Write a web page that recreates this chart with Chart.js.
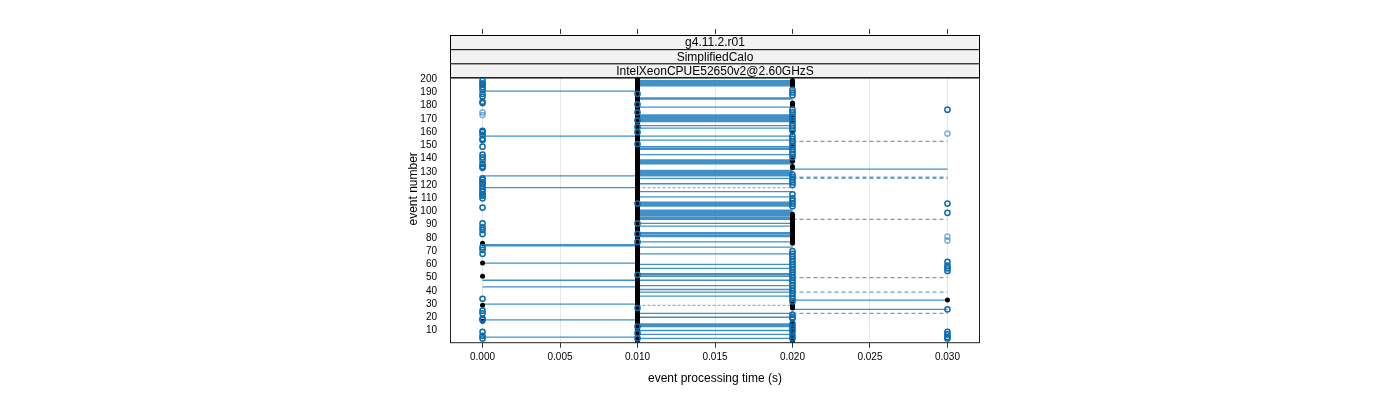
<!DOCTYPE html>
<html>
<head>
<meta charset="utf-8">
<script src="https://cdn.jsdelivr.net/npm/chart.js@4.4.0/dist/chart.umd.min.js"></script>
<style>
  html, body { margin: 0; padding: 0; background: #fff; }
</style>
</head>
<body>
<canvas id="chart" width="1400" height="400"></canvas>
<script>
// axis ticks
const timeTicks = [0, 0.005, 0.010, 0.015, 0.020, 0.025, 0.030];
const eventTicks = [10, 20, 30, 40, 50, 60, 70, 80, 90, 100, 110, 120, 130, 140, 150, 160, 170, 180, 190, 200];
const stripLabels = ['g4.11.2.r01', 'SimplifiedCalo', 'IntelXeonCPUE52650v2@2.60GHzS'];

// black dots: event numbers per processing time
const blackAt0 = [76, 61, 51, 29, 17];
const blackAt10 = [
    1, 2, 3, 4, 5, 6, 7, 8, 9, 10, 11, 12, 13, 14, 15, 16, 17, 18, 19, 20,
    21, 22, 23, 24, 25, 26, 27, 28, 29, 30, 31, 32, 33, 34, 35, 36, 37, 38, 39, 40,
    41, 42, 43, 44, 45, 46, 47, 48, 49, 50, 51, 52, 53, 54, 55, 56, 57, 58, 59, 60,
    61, 62, 63, 64, 65, 66, 67, 68, 69, 70, 71, 72, 73, 74, 75, 76, 77, 78, 79, 80,
    81, 82, 83, 84, 85, 86, 87, 88, 89, 90, 91, 92, 93, 94, 95, 96, 97, 98, 99, 100,
    101, 102, 103, 104, 105, 106, 107, 108, 109, 110, 111, 112, 113, 114, 115, 116, 117, 118, 119, 120,
    121, 122, 123, 124, 125, 126, 127, 128, 129, 130, 132, 133, 134, 135, 136, 137, 138, 139, 140,
    141, 142, 143, 144, 145, 146, 147, 148, 149, 150, 151, 152, 153, 154, 155, 156, 157, 158, 159, 160,
    161, 162, 163, 164, 165, 166, 167, 168, 169, 170, 171, 172, 173, 174, 175, 176, 177, 178, 179, 180,
    181, 182, 183, 184, 185, 186, 187, 188, 189, 190, 191, 192, 193, 194, 195, 196, 197, 198, 199, 200
];
const blackAt20 = [199, 198, 197, 196, 195, 182, 181, 180, 172, 168, 160, 150, 140, 139, 138, 134, 133,
    98, 97, 96, 95, 94, 93, 92, 91, 90, 89, 88, 87, 86, 85, 84, 83, 82, 81, 80, 79, 78, 77, 76,
    31, 30, 29, 28, 27, 16, 14, 12, 10, 7, 5, 3, 2];
const blackAt30 = [33];

// blue open circles
const blueAt0 = [199, 197, 196, 194, 192, 189, 187, 183, 182, 161, 160, 158, 155, 154, 149, 143, 141, 139,
    136, 134, 133, 125, 124, 122, 121, 119, 117, 115, 113, 112, 110, 103, 91, 88, 86, 83, 73, 71, 68,
    34, 25, 23, 19, 18, 9, 6, 4];
const blueAt10 = [189, 181, 175, 169, 164, 160, 151, 106, 91, 83, 77, 52, 27, 13, 8, 4];
const blueAt20 = [192, 190, 188, 177, 175, 173, 171, 169, 167, 165, 163, 161, 157, 155, 153, 151, 149, 147,
    145, 143, 141, 128, 126, 124, 122, 120, 113, 110, 108, 106, 104, 70, 68, 66, 64, 62, 60, 58, 56, 54,
    52, 50, 48, 46, 44, 42, 40, 38, 36, 34, 32, 22, 20, 19, 15, 13, 11, 9, 6, 4];
const blueAt30 = [177, 106, 99, 62, 59, 57, 55, 26, 9, 7, 5, 4];
const paleAt0 = [175, 173];
const paleAt30 = [159, 81, 78];

// horizontal segments (event numbers)
const lines0to10 = [191, 157, 127, 118, 75, 74, 61, 48, 43, 30, 18, 5];
const lines10to20 = [199, 198, 197, 196, 195, 186, 185, 179, 173, 172, 171, 170, 169, 168, 165, 163, 157, 154,
    149, 148, 147, 143, 139, 138, 137, 136, 131, 130, 129, 128, 127, 125, 121, 115, 111, 107, 106, 105, 104,
    101, 100, 99, 98, 97, 96, 95, 94, 91, 89, 84, 83, 82, 81, 77, 73, 68, 60, 57, 53, 52, 51, 48, 44, 41,
    39, 36, 23, 20, 15, 14, 13, 10, 7, 4];
const dashed10to20 = [118, 29];
const lines20to30 = [132, 33, 26];
const dashed20to30 = [153, 126, 125, 94, 50, 39, 23];

const FONT = '"Liberation Sans", Arial, sans-serif';
Chart.defaults.font.family = FONT;
Chart.defaults.color = '#000';

function points(events, t) {
    return events.map(e => ({ x: t, y: e }));
}

function segments(events, t0, t1) {
    const out = [];
    events.forEach(e => {
        out.push({ x: t0, y: e }, { x: t1, y: e }, { x: t1, y: null });
    });
    return out;
}

function circles(data, color) {
    return {
        data, showLine: false, pointStyle: 'circle', pointRadius: 2.6,
        pointBackgroundColor: 'rgba(0,0,0,0)', pointBorderColor: color, pointBorderWidth: 1.5
    };
}

function segLine(data, color, width, dash) {
    return {
        data, borderColor: color, borderWidth: width, borderDash: dash || [],
        pointRadius: 0, fill: false, tension: 0
    };
}

const BLUE = '#0a6cad';
const LINE = 'rgba(18,118,186,0.8)';

const datasets = [
    circles([...points(blueAt0, 0), ...points(blueAt10, 0.01), ...points(blueAt20, 0.02), ...points(blueAt30, 0.03)], BLUE),
    circles([...points(paleAt0, 0), ...points(paleAt30, 0.03)], 'rgba(40,130,195,0.6)'),
    {
        data: [...points(blackAt0, 0), ...points(blackAt10, 0.01), ...points(blackAt20, 0.02), ...points(blackAt30, 0.03)],
        showLine: false, pointStyle: 'circle', pointRadius: 2.5,
        pointBackgroundColor: '#000', pointBorderColor: '#000', pointBorderWidth: 0
    },
    segLine(segments(lines0to10, 0, 0.01), LINE, 1.3),
    segLine(segments(lines10to20, 0.01, 0.02), LINE, 1.3),
    segLine(segments(dashed10to20, 0.01, 0.02), 'rgba(120,175,215,0.9)', 1.2, [3, 2]),
    segLine(segments(lines20to30, 0.02, 0.03), LINE, 1.3),
    segLine(segments(dashed20to30, 0.02, 0.03), 'rgba(50,130,190,0.75)', 1.2, [4, 3])
];

const PANEL_TOP = 77.5;

const stripPlugin = {
    id: 'strips',
    beforeDatasetsDraw(chart) {
        const { ctx, chartArea } = chart;
        const h = (PANEL_TOP - chartArea.top) / stripLabels.length;
        ctx.save();
        ctx.fillStyle = '#fff';
        ctx.fillRect(chartArea.left, chartArea.top - 1, chartArea.right - chartArea.left, PANEL_TOP - chartArea.top + 1);
        stripLabels.forEach((label, i) => {
            const y = chartArea.top + i * h;
            ctx.fillStyle = '#f2f2f2';
            ctx.fillRect(chartArea.left, y, chartArea.right - chartArea.left, h);
            ctx.strokeStyle = '#000';
            ctx.lineWidth = 1;
            ctx.strokeRect(chartArea.left + 0.5, y + 0.5, chartArea.right - chartArea.left - 1, h);
            ctx.fillStyle = '#000';
            ctx.font = '12px ' + FONT;
            ctx.textAlign = 'center';
            ctx.textBaseline = 'middle';
            ctx.fillText(label, (chartArea.left + chartArea.right) / 2, y + h / 2 + 1);
        });
        ctx.restore();
    },
    afterDatasetsDraw(chart) {
        const { ctx, chartArea } = chart;
        ctx.save();
        ctx.strokeStyle = '#222';
        ctx.lineWidth = 1;
        ctx.strokeRect(chartArea.left + 0.5, PANEL_TOP, chartArea.right - chartArea.left - 1, chartArea.bottom - PANEL_TOP);
        ctx.restore();
    }
};

const X_MIN = -0.0021, X_MAX = 0.0321;

new Chart(document.getElementById('chart'), {
    type: 'line',
    data: { datasets },
    plugins: [stripPlugin],
    options: {
        responsive: false,
        devicePixelRatio: 1,
        animation: false,
        events: [],
        layout: { padding: { left: 400, right: 420, top: 20, bottom: 10 } },
        plugins: { legend: { display: false }, tooltip: { enabled: false } },
        scales: {
            x: {
                type: 'linear', position: 'bottom', min: X_MIN, max: X_MAX,
                afterBuildTicks: s => { s.ticks = timeTicks.map(v => ({ value: v })); },
                afterFit: s => { s.height = 47.3; },
                border: { display: false },
                grid: { color: '#e8e8e8', tickColor: '#333', tickLength: 5, lineWidth: 1 },
                ticks: { font: { size: 10 }, padding: 4, maxRotation: 0, autoSkip: false, callback: v => v.toFixed(3) },
                title: { display: true, text: 'event processing time (s)', font: { size: 12 }, padding: { bottom: 4 } }
            },
            x2: {
                type: 'linear', position: 'top', min: X_MIN, max: X_MAX,
                afterBuildTicks: s => { s.ticks = timeTicks.map(v => ({ value: v })); },
                afterFit: s => { s.height = 15; },
                border: { display: false },
                grid: { color: 'rgba(0,0,0,0)', tickColor: '#333', tickLength: 6 },
                ticks: { display: false }
            },
            y: {
                type: 'linear', position: 'left', min: 0.76, max: 233.5,
                afterBuildTicks: s => { s.ticks = eventTicks.map(v => ({ value: v })); },
                afterFit: s => { s.width = 50; },
                border: { display: false },
                grid: { display: false, drawTicks: false },
                ticks: { font: { size: 10 }, padding: 13, autoSkip: false },
                title: { display: true, text: 'event number', font: { size: 12 }, padding: { top: 6 } }
            }
        }
    }
});
</script>
</body>
</html>
